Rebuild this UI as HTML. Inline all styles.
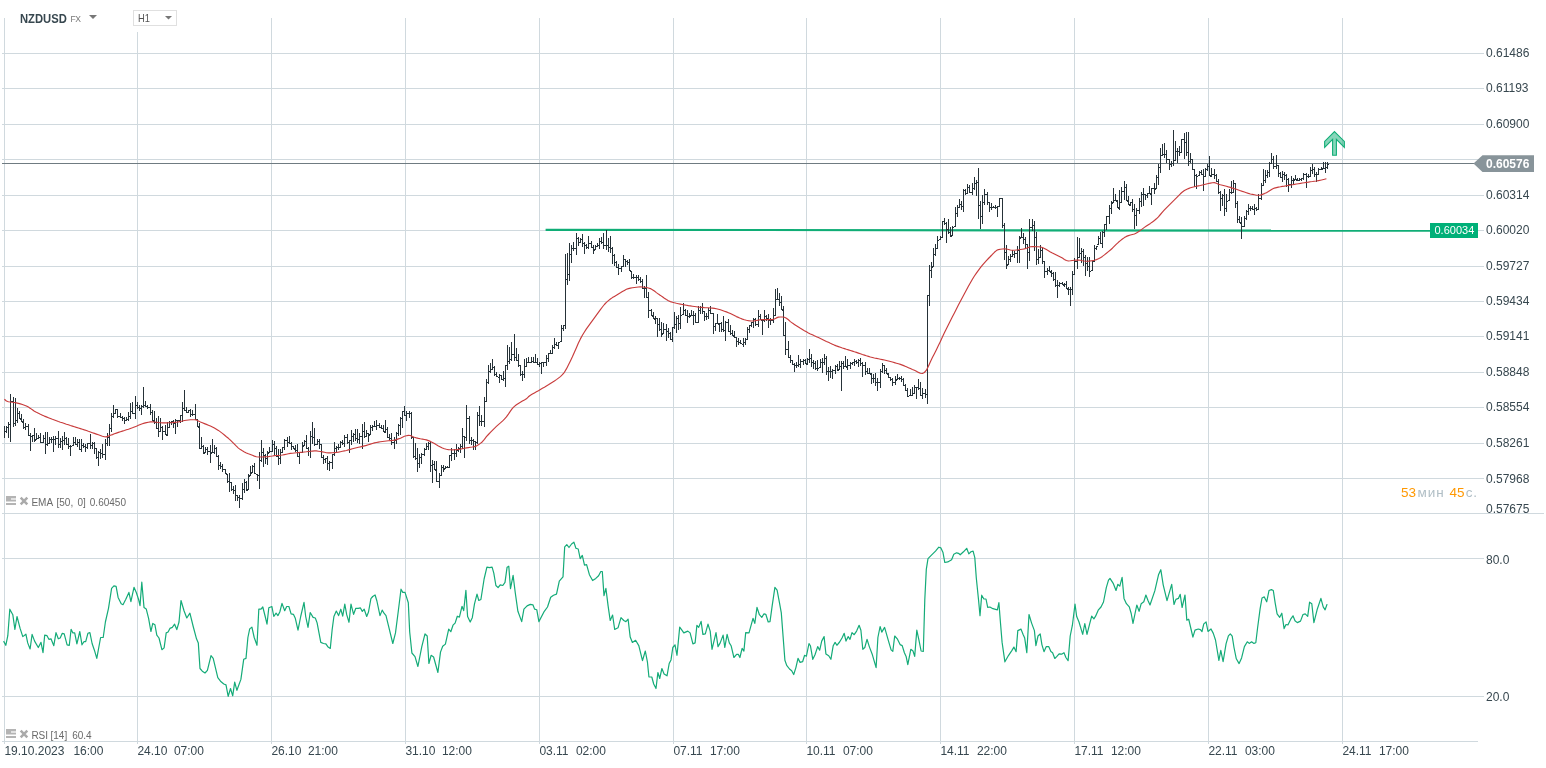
<!DOCTYPE html>
<html><head><meta charset="utf-8"><title>NZDUSD</title>
<style>
html,body{margin:0;padding:0;background:#fff;}
body{width:1546px;height:768px;position:relative;overflow:hidden;font-family:"Liberation Sans",sans-serif;}
.t{position:absolute;white-space:nowrap;line-height:1;}
.ax{font-size:12px;color:#37474f;left:1486px;}
.tm{font-size:12px;color:#37474f;top:745px;}
.ind{font-size:10px;color:#6a6a6a;}
</style></head><body>

<svg width="1546" height="768" viewBox="0 0 1546 768" style="position:absolute;left:0;top:0">
<path d="M4.5 18V744M137.5 18V744M271.5 18V744M405.5 18V744M539.5 18V744M673.5 18V744M806.5 18V744M940.5 18V744M1074.5 18V744M1208.5 18V744M1342.5 18V744M2 53.5H1484M2 88.5H1484M2 124.5H1484M2 159.5H1484M2 195.5H1484M2 230.5H1484M2 266.5H1484M2 301.5H1484M2 336.5H1484M2 372.5H1484M2 407.5H1484M2 443.5H1484M2 478.5H1484M2 558.5H1484M2 696.5H1484" stroke="#d0d9de" stroke-width="1" fill="none" shape-rendering="crispEdges"/>
<path d="M2 513.5H1544M2 741.5H1478" stroke="#d0d9de" stroke-width="1" fill="none" shape-rendering="crispEdges"/>
<path d="M2 163.5H1476" stroke="#6f7b81" stroke-width="1" fill="none" shape-rendering="crispEdges"/>
<path d="M545.6 229.8L1431 230.7" stroke="#10ad76" stroke-width="2.2" fill="none"/>
<path d="M4.5 426V438M5 431.5h1M6.5 426V433M7 427.5h1M5 431.5h1M8.5 422V438M9 424.5h1M7 427.5h1M10.5 394V442M11 401.5h1M9 424.5h1M13.5 397V427M14 423.5h1M12 401.5h1M15.5 398V426M16 420.5h1M14 423.5h1M17.5 408V423M18 413.5h1M16 420.5h1M19.5 411V419M20 418.5h1M18 413.5h1M21.5 414V422M22 421.5h1M20 419.5h1M23.5 419V429M24 427.5h1M22 422.5h1M25.5 423V430M26 426.5h1M24 427.5h1M28.5 424V436M29 435.5h1M27 426.5h1M30.5 433V451M31 436.5h1M29 435.5h1M32.5 435V442M33 435.5h1M31 436.5h1M34.5 428V442M35 440.5h1M33 435.5h1M36.5 433V440M37 438.5h1M35 439.5h1M38.5 435V439M39 437.5h1M37 438.5h1M40.5 433V443M41 442.5h1M39 437.5h1M43.5 435V443M44 438.5h1M42 442.5h1M45.5 432V454M46 444.5h1M44 438.5h1M47.5 432V446M48 443.5h1M46 444.5h1M49.5 437V444M50 439.5h1M48 443.5h1M51.5 437V443M52 439.5h1M50 439.5h1M53.5 436V452M54 439.5h1M52 439.5h1M55.5 436V445M56 438.5h1M54 439.5h1M58.5 431V448M59 444.5h1M57 438.5h1M60.5 438V448M61 441.5h1M59 444.5h1M62.5 436V450M63 440.5h1M61 441.5h1M64.5 432V445M65 438.5h1M63 440.5h1M66.5 437V445M67 444.5h1M65 438.5h1M68.5 438V449M69 446.5h1M67 444.5h1M70.5 445V456M71 446.5h1M69 446.5h1M73.5 437V446M74 442.5h1M72 445.5h1M75.5 437V445M76 444.5h1M74 442.5h1M77.5 439V447M78 442.5h1M76 444.5h1M79.5 439V450M80 449.5h1M78 442.5h1M81.5 439V452M82 445.5h1M80 449.5h1M83.5 443V448M84 446.5h1M82 445.5h1M85.5 444V452M86 447.5h1M84 446.5h1M87.5 443V449M88 443.5h1M86 447.5h1M90.5 434V449M91 445.5h1M89 443.5h1M92.5 442V449M93 443.5h1M91 445.5h1M94.5 442V454M95 448.5h1M93 443.5h1M96.5 448V459M97 457.5h1M95 448.5h1M98.5 451V466M99 452.5h1M97 457.5h1M100.5 449V459M101 453.5h1M99 452.5h1M102.5 444V458M103 454.5h1M101 453.5h1M105.5 439V460M106 443.5h1M104 454.5h1M107.5 433V446M108 437.5h1M106 443.5h1M109.5 424V446M110 428.5h1M108 437.5h1M111.5 413V432M112 416.5h1M110 428.5h1M113.5 405V418M114 413.5h1M112 416.5h1M115.5 409V414M116 409.5h1M114 413.5h1M117.5 409V418M118 416.5h1M116 409.5h1M120.5 413V418M121 417.5h1M119 416.5h1M122.5 416V421M123 418.5h1M121 417.5h1M124.5 417V424M125 420.5h1M123 418.5h1M126.5 417V421M127 419.5h1M125 420.5h1M128.5 412V421M129 416.5h1M127 419.5h1M130.5 403V419M131 411.5h1M129 416.5h1M132.5 402V414M133 413.5h1M131 411.5h1M135.5 396V419M136 405.5h1M134 413.5h1M137.5 402V409M138 407.5h1M136 405.5h1M139.5 405V411M140 408.5h1M138 407.5h1M141.5 405V415M142 406.5h1M140 408.5h1M143.5 387V408M144 405.5h1M142 406.5h1M145.5 401V407M146 406.5h1M144 405.5h1M147.5 405V409M148 407.5h1M146 406.5h1M150.5 404V415M151 412.5h1M149 407.5h1M152.5 410V421M153 420.5h1M151 412.5h1M154.5 411V424M155 422.5h1M153 421.5h1M156.5 418V429M157 428.5h1M155 422.5h1M158.5 416V437M159 431.5h1M157 428.5h1M160.5 418V432M161 427.5h1M159 431.5h1M162.5 426V440M163 431.5h1M161 427.5h1M165.5 425V435M166 434.5h1M164 431.5h1M167.5 422V436M168 427.5h1M166 435.5h1M169.5 421V428M170 422.5h1M168 427.5h1M171.5 421V425M172 421.5h1M170 422.5h1M173.5 420V428M174 423.5h1M172 421.5h1M175.5 419V434M176 420.5h1M174 423.5h1M177.5 420V427M178 420.5h1M176 420.5h1M180.5 415V423M181 415.5h1M179 420.5h1M182.5 402V422M183 408.5h1M181 415.5h1M184.5 390V411M185 410.5h1M183 408.5h1M186.5 407V413M187 412.5h1M185 410.5h1M188.5 410V413M189 410.5h1M187 412.5h1M190.5 409V417M191 414.5h1M189 410.5h1M192.5 410V416M193 414.5h1M191 414.5h1M195.5 404V420M196 419.5h1M194 414.5h1M197.5 419V427M198 426.5h1M196 419.5h1M199.5 423V449M200 448.5h1M198 427.5h1M201.5 437V449M202 446.5h1M200 448.5h1M203.5 445V454M204 453.5h1M202 446.5h1M205.5 447V453M206 449.5h1M204 452.5h1M207.5 447V455M208 451.5h1M206 449.5h1M210.5 445V463M211 453.5h1M209 451.5h1M212.5 439V453M213 452.5h1M211 452.5h1M214.5 445V454M215 448.5h1M213 452.5h1M216.5 447V457M217 456.5h1M215 448.5h1M218.5 455V470M219 465.5h1M217 456.5h1M220.5 462V469M221 466.5h1M219 465.5h1M222.5 464V472M223 469.5h1M221 466.5h1M225.5 469V474M226 473.5h1M224 469.5h1M227.5 474V483M228 481.5h1M226 474.5h1M229.5 473V492M230 482.5h1M228 481.5h1M231.5 482V491M232 489.5h1M230 482.5h1M233.5 486V494M234 490.5h1M232 489.5h1M235.5 485V501M236 495.5h1M234 490.5h1M237.5 495V501M238 497.5h1M236 495.5h1M239.5 495V508M240 498.5h1M238 497.5h1M242.5 483V500M243 489.5h1M241 498.5h1M244.5 479V493M245 482.5h1M243 489.5h1M246.5 481V491M247 490.5h1M245 482.5h1M248.5 474V490M249 476.5h1M247 489.5h1M250.5 466V476M251 473.5h1M249 475.5h1M252.5 465V473M253 466.5h1M251 472.5h1M254.5 463V474M255 473.5h1M253 466.5h1M257.5 474V481M258 475.5h1M256 474.5h1M259.5 452V489M260 460.5h1M258 475.5h1M261.5 440V462M262 452.5h1M260 460.5h1M263.5 448V467M264 455.5h1M262 452.5h1M265.5 454V464M266 458.5h1M264 455.5h1M267.5 451V465M268 453.5h1M266 458.5h1M269.5 447V453M270 451.5h1M268 452.5h1M272.5 440V452M273 444.5h1M271 451.5h1M274.5 441V456M275 448.5h1M273 444.5h1M276.5 446V457M277 456.5h1M275 448.5h1M278.5 449V465M279 458.5h1M277 456.5h1M280.5 449V464M281 452.5h1M279 458.5h1M282.5 447V453M283 447.5h1M281 452.5h1M284.5 439V450M285 440.5h1M283 447.5h1M287.5 437V447M288 442.5h1M286 440.5h1M289.5 436V444M290 443.5h1M288 442.5h1M291.5 442V450M292 446.5h1M290 443.5h1M293.5 446V449M294 448.5h1M292 446.5h1M295.5 445V452M296 450.5h1M294 449.5h1M297.5 444V457M298 456.5h1M296 450.5h1M299.5 452V464M300 452.5h1M298 456.5h1M302.5 442V453M303 446.5h1M301 452.5h1M304.5 440V446M305 441.5h1M303 445.5h1M306.5 435V449M307 448.5h1M305 441.5h1M308.5 447V456M309 451.5h1M307 448.5h1M310.5 431V458M311 436.5h1M309 451.5h1M312.5 422V444M313 437.5h1M311 436.5h1M314.5 428V446M315 444.5h1M313 437.5h1M317.5 439V445M318 441.5h1M316 444.5h1M319.5 439V449M320 444.5h1M318 441.5h1M321.5 444V458M322 457.5h1M320 444.5h1M323.5 455V464M324 459.5h1M322 457.5h1M325.5 458V463M326 458.5h1M324 459.5h1M327.5 456V470M328 463.5h1M326 458.5h1M329.5 461V471M330 462.5h1M328 463.5h1M332.5 454V469M333 454.5h1M331 462.5h1M334.5 442V456M335 448.5h1M333 454.5h1M336.5 446V452M337 447.5h1M335 448.5h1M338.5 444V450M339 447.5h1M337 447.5h1M340.5 441V448M341 442.5h1M339 447.5h1M342.5 440V445M343 443.5h1M341 442.5h1M344.5 435V447M345 437.5h1M343 443.5h1M347.5 434V444M348 442.5h1M346 437.5h1M349.5 440V453M350 440.5h1M348 442.5h1M351.5 430V445M352 436.5h1M350 440.5h1M353.5 433V442M354 434.5h1M352 436.5h1M355.5 429V441M356 438.5h1M354 434.5h1M357.5 429V443M358 439.5h1M356 438.5h1M359.5 433V444M360 436.5h1M358 439.5h1M362.5 424V449M363 431.5h1M361 436.5h1M364.5 422V438M365 436.5h1M363 431.5h1M366.5 430V437M367 433.5h1M365 436.5h1M368.5 433V442M369 435.5h1M367 433.5h1M370.5 425V435M371 427.5h1M369 434.5h1M372.5 425V431M373 426.5h1M371 427.5h1M374.5 421V427M375 426.5h1M373 426.5h1M376.5 420V430M377 425.5h1M375 426.5h1M379.5 423V428M380 427.5h1M378 425.5h1M381.5 425V429M382 428.5h1M380 427.5h1M383.5 425V432M384 431.5h1M382 428.5h1M385.5 420V433M386 429.5h1M384 432.5h1M387.5 427V438M388 437.5h1M386 429.5h1M389.5 434V440M390 438.5h1M388 437.5h1M391.5 433V445M392 442.5h1M390 438.5h1M394.5 437V449M395 440.5h1M393 442.5h1M396.5 432V444M397 433.5h1M395 440.5h1M398.5 424V436M399 425.5h1M397 433.5h1M400.5 417V435M401 418.5h1M399 425.5h1M402.5 411V428M403 411.5h1M401 418.5h1M404.5 406V416M405 415.5h1M403 411.5h1M406.5 411V421M407 413.5h1M405 415.5h1M409.5 411V418M410 413.5h1M408 413.5h1M411.5 412V439M412 437.5h1M410 413.5h1M413.5 437V458M414 456.5h1M412 437.5h1M415.5 443V460M416 458.5h1M414 456.5h1M417.5 448V472M418 463.5h1M416 458.5h1M419.5 454V468M420 457.5h1M418 463.5h1M421.5 453V464M422 454.5h1M420 457.5h1M424.5 448V456M425 449.5h1M423 454.5h1M426.5 443V450M427 446.5h1M425 449.5h1M428.5 442V450M429 443.5h1M427 446.5h1M430.5 442V472M431 465.5h1M429 443.5h1M432.5 460V483M433 464.5h1M431 465.5h1M434.5 461V470M435 469.5h1M433 464.5h1M436.5 461V482M437 481.5h1M435 470.5h1M439.5 473V488M440 475.5h1M438 481.5h1M441.5 465V476M442 467.5h1M440 475.5h1M443.5 465V472M444 469.5h1M442 467.5h1M445.5 466V469M446 467.5h1M444 468.5h1M447.5 466V468M448 467.5h1M446 467.5h1M449.5 455V468M450 455.5h1M448 467.5h1M451.5 448V461M452 453.5h1M450 455.5h1M454.5 449V460M455 453.5h1M453 453.5h1M456.5 444V457M457 450.5h1M455 453.5h1M458.5 447V452M459 448.5h1M457 450.5h1M460.5 444V453M461 446.5h1M459 448.5h1M462.5 428V449M463 436.5h1M461 446.5h1M464.5 436V458M465 437.5h1M463 436.5h1M466.5 405V441M467 418.5h1M465 437.5h1M469.5 416V444M470 440.5h1M468 418.5h1M471.5 437V445M472 440.5h1M470 440.5h1M473.5 439V450M474 441.5h1M472 440.5h1M475.5 441V450M476 442.5h1M474 441.5h1M477.5 412V444M478 415.5h1M476 442.5h1M479.5 406V426M480 421.5h1M478 415.5h1M481.5 415V426M482 421.5h1M480 421.5h1M484.5 397V427M485 401.5h1M483 421.5h1M486.5 379V402M487 382.5h1M485 401.5h1M488.5 365V384M489 371.5h1M487 382.5h1M490.5 363V373M491 369.5h1M489 371.5h1M492.5 359V370M493 367.5h1M491 369.5h1M494.5 366V376M495 374.5h1M493 367.5h1M496.5 372V377M497 376.5h1M495 374.5h1M499.5 374V383M500 375.5h1M498 377.5h1M501.5 375V380M502 379.5h1M500 375.5h1M503.5 371V381M504 378.5h1M502 379.5h1M505.5 365V387M506 365.5h1M504 378.5h1M507.5 345V370M508 361.5h1M506 365.5h1M509.5 347V364M510 359.5h1M508 361.5h1M511.5 342V361M512 354.5h1M510 359.5h1M514.5 334V361M515 357.5h1M513 354.5h1M516.5 348V361M517 360.5h1M515 357.5h1M518.5 354V367M519 365.5h1M517 360.5h1M520.5 365V376M521 374.5h1M519 365.5h1M522.5 371V381M523 374.5h1M521 374.5h1M524.5 359V378M525 366.5h1M523 374.5h1M526.5 358V367M527 362.5h1M525 366.5h1M528.5 357V363M529 362.5h1M527 362.5h1M531.5 357V363M532 361.5h1M530 362.5h1M533.5 357V363M534 362.5h1M532 361.5h1M535.5 354V363M536 362.5h1M534 362.5h1M537.5 358V365M538 364.5h1M536 362.5h1M539.5 362V367M540 363.5h1M538 364.5h1M541.5 362V374M542 362.5h1M540 363.5h1M543.5 362V367M544 362.5h1M542 362.5h1M546.5 355V366M547 358.5h1M545 362.5h1M548.5 353V362M549 353.5h1M547 358.5h1M550.5 350V354M551 353.5h1M549 353.5h1M552.5 345V354M553 347.5h1M551 353.5h1M554.5 338V349M555 344.5h1M553 347.5h1M556.5 342V346M557 345.5h1M555 344.5h1M558.5 342V349M559 342.5h1M557 345.5h1M561.5 325V342M562 328.5h1M560 341.5h1M563.5 325V331M564 325.5h1M562 328.5h1M565.5 254V329M566 279.5h1M564 325.5h1M567.5 253V285M568 274.5h1M566 279.5h1M569.5 243V281M570 254.5h1M568 274.5h1M571.5 245V263M572 248.5h1M570 254.5h1M573.5 242V251M574 248.5h1M572 248.5h1M576.5 233V255M577 238.5h1M575 248.5h1M578.5 237V246M579 242.5h1M577 238.5h1M580.5 238V243M581 239.5h1M579 242.5h1M582.5 234V247M583 243.5h1M581 239.5h1M584.5 242V254M585 245.5h1M583 243.5h1M586.5 244V249M587 247.5h1M585 245.5h1M588.5 236V249M589 243.5h1M587 247.5h1M591.5 241V248M592 247.5h1M590 243.5h1M593.5 245V254M594 250.5h1M592 247.5h1M595.5 245V250M596 246.5h1M594 249.5h1M597.5 243V247M598 245.5h1M596 246.5h1M599.5 238V249M600 241.5h1M598 245.5h1M601.5 237V244M602 242.5h1M600 241.5h1M603.5 233V249M604 245.5h1M602 242.5h1M606.5 230V250M607 245.5h1M605 245.5h1M608.5 238V252M609 247.5h1M607 245.5h1M610.5 236V253M611 248.5h1M609 247.5h1M612.5 247V264M613 255.5h1M611 248.5h1M614.5 254V266M615 262.5h1M613 255.5h1M616.5 261V268M617 267.5h1M615 262.5h1M618.5 264V275M619 268.5h1M617 267.5h1M621.5 266V272M622 266.5h1M620 268.5h1M623.5 255V267M624 259.5h1M622 266.5h1M625.5 259V267M626 261.5h1M624 259.5h1M627.5 260V265M628 262.5h1M626 261.5h1M629.5 259V271M630 270.5h1M628 262.5h1M631.5 271V279M632 277.5h1M630 271.5h1M633.5 274V279M634 277.5h1M632 277.5h1M636.5 275V284M637 277.5h1M635 277.5h1M638.5 275V281M639 279.5h1M637 277.5h1M640.5 277V283M641 281.5h1M639 279.5h1M642.5 279V289M643 288.5h1M641 281.5h1M644.5 286V298M645 288.5h1M643 288.5h1M646.5 275V298M647 297.5h1M645 288.5h1M648.5 292V318M649 310.5h1M647 297.5h1M651.5 309V316M652 315.5h1M650 310.5h1M653.5 312V319M654 318.5h1M652 316.5h1M655.5 316V324M656 318.5h1M654 319.5h1M657.5 318V337M658 324.5h1M656 318.5h1M659.5 318V331M660 329.5h1M658 324.5h1M661.5 322V337M662 334.5h1M660 329.5h1M663.5 323V334M664 329.5h1M662 333.5h1M666.5 324V341M667 331.5h1M665 329.5h1M668.5 328V338M669 333.5h1M667 331.5h1M670.5 332V340M671 339.5h1M669 333.5h1M672.5 327V342M673 327.5h1M671 339.5h1M674.5 312V329M675 324.5h1M673 327.5h1M676.5 316V333M677 318.5h1M675 324.5h1M678.5 315V330M679 323.5h1M677 318.5h1M680.5 307V329M681 315.5h1M679 323.5h1M683.5 303V315M684 310.5h1M682 314.5h1M685.5 309V316M686 315.5h1M684 310.5h1M687.5 310V323M688 316.5h1M686 315.5h1M689.5 313V318M690 316.5h1M688 316.5h1M691.5 310V316M692 315.5h1M690 315.5h1M693.5 311V325M694 315.5h1M692 315.5h1M695.5 313V323M696 322.5h1M694 315.5h1M698.5 306V323M699 310.5h1M697 322.5h1M700.5 306V314M701 307.5h1M699 310.5h1M702.5 303V314M703 311.5h1M701 307.5h1M704.5 311V321M705 316.5h1M703 311.5h1M706.5 313V320M707 316.5h1M705 316.5h1M708.5 308V319M709 310.5h1M707 316.5h1M710.5 306V314M711 313.5h1M709 310.5h1M713.5 313V334M714 326.5h1M712 313.5h1M715.5 323V331M716 323.5h1M714 326.5h1M717.5 314V324M718 323.5h1M716 323.5h1M719.5 323V332M720 323.5h1M718 324.5h1M721.5 322V332M722 329.5h1M720 323.5h1M723.5 316V332M724 330.5h1M722 329.5h1M725.5 321V341M726 322.5h1M724 330.5h1M728.5 319V332M729 331.5h1M727 322.5h1M730.5 325V335M731 333.5h1M729 331.5h1M732.5 330V336M733 335.5h1M731 333.5h1M734.5 331V338M735 337.5h1M733 336.5h1M736.5 337V347M737 341.5h1M735 337.5h1M738.5 338V345M739 342.5h1M737 341.5h1M740.5 340V344M741 343.5h1M739 342.5h1M743.5 338V347M744 342.5h1M742 344.5h1M745.5 338V345M746 339.5h1M744 342.5h1M747.5 327V340M748 329.5h1M746 339.5h1M749.5 325V333M750 325.5h1M748 329.5h1M751.5 322V327M752 322.5h1M750 325.5h1M753.5 318V328M754 319.5h1M752 322.5h1M755.5 318V326M756 324.5h1M754 319.5h1M758.5 310V327M759 316.5h1M757 324.5h1M760.5 314V320M761 319.5h1M759 316.5h1M762.5 319V335M763 320.5h1M761 320.5h1M764.5 310V322M765 316.5h1M763 320.5h1M766.5 315V321M767 318.5h1M765 316.5h1M768.5 314V328M769 320.5h1M767 318.5h1M770.5 318V325M771 320.5h1M769 320.5h1M773.5 308V323M774 315.5h1M772 320.5h1M775.5 289V316M776 299.5h1M774 315.5h1M777.5 288V300M778 299.5h1M776 299.5h1M779.5 293V306M780 302.5h1M778 299.5h1M781.5 296V310M782 309.5h1M780 302.5h1M783.5 306V336M784 335.5h1M782 310.5h1M785.5 322V355M786 349.5h1M784 335.5h1M788.5 341V358M789 357.5h1M787 349.5h1M790.5 355V363M791 360.5h1M789 357.5h1M792.5 360V365M793 364.5h1M791 360.5h1M794.5 363V372M795 365.5h1M793 364.5h1M796.5 362V368M797 365.5h1M795 365.5h1M798.5 355V367M799 364.5h1M797 365.5h1M800.5 359V368M801 361.5h1M799 364.5h1M803.5 359V365M804 360.5h1M802 361.5h1M805.5 359V364M806 363.5h1M804 360.5h1M807.5 358V365M808 359.5h1M806 364.5h1M809.5 349V363M810 358.5h1M808 359.5h1M811.5 354V367M812 362.5h1M810 358.5h1M813.5 360V369M814 363.5h1M812 362.5h1M815.5 361V370M816 368.5h1M814 363.5h1M817.5 360V371M818 368.5h1M816 368.5h1M820.5 359V368M821 362.5h1M819 367.5h1M822.5 358V373M823 362.5h1M821 362.5h1M824.5 354V365M825 358.5h1M823 362.5h1M826.5 356V375M827 371.5h1M825 358.5h1M828.5 367V381M829 371.5h1M827 371.5h1M830.5 366V378M831 371.5h1M829 371.5h1M832.5 369V379M833 370.5h1M831 371.5h1M835.5 365V374M836 366.5h1M834 370.5h1M837.5 364V371M838 370.5h1M836 366.5h1M839.5 361V370M840 366.5h1M838 369.5h1M841.5 361V391M842 363.5h1M840 366.5h1M843.5 361V369M844 366.5h1M842 363.5h1M845.5 356V367M846 366.5h1M844 366.5h1M847.5 359V370M848 365.5h1M846 367.5h1M850.5 362V369M851 363.5h1M849 365.5h1M852.5 362V365M853 362.5h1M851 363.5h1M854.5 359V366M855 361.5h1M853 362.5h1M856.5 360V364M857 362.5h1M855 361.5h1M858.5 359V367M859 360.5h1M857 362.5h1M860.5 358V366M861 363.5h1M859 360.5h1M862.5 362V377M863 365.5h1M861 363.5h1M865.5 362V375M866 371.5h1M864 365.5h1M867.5 368V374M868 373.5h1M866 371.5h1M869.5 368V374M870 373.5h1M868 373.5h1M871.5 373V384M872 378.5h1M870 374.5h1M873.5 374V383M874 378.5h1M872 378.5h1M875.5 373V386M876 382.5h1M874 378.5h1M877.5 378V391M878 382.5h1M876 382.5h1M880.5 369V388M881 371.5h1M879 382.5h1M882.5 363V373M883 365.5h1M881 371.5h1M884.5 365V374M885 370.5h1M883 365.5h1M886.5 368V374M887 373.5h1M885 370.5h1M888.5 373V378M889 377.5h1M887 374.5h1M890.5 377V381M891 379.5h1M889 377.5h1M892.5 378V386M893 382.5h1M891 379.5h1M895.5 376V385M896 380.5h1M894 382.5h1M897.5 374V380M898 378.5h1M896 379.5h1M899.5 377V380M900 378.5h1M898 378.5h1M901.5 376V382M902 379.5h1M900 378.5h1M903.5 378V386M904 385.5h1M902 379.5h1M905.5 384V391M906 390.5h1M904 385.5h1M907.5 388V397M908 396.5h1M906 390.5h1M910.5 389V396M911 395.5h1M909 395.5h1M912.5 387V396M913 393.5h1M911 395.5h1M914.5 385V394M915 387.5h1M913 393.5h1M916.5 387V399M917 387.5h1M915 387.5h1M918.5 379V390M919 388.5h1M917 387.5h1M920.5 382V396M921 395.5h1M919 388.5h1M922.5 388V399M923 393.5h1M921 395.5h1M925.5 389V398M926 394.5h1M924 393.5h1M927.5 295V404M928 295.5h1M926 394.5h1M929.5 265V306M930 270.5h1M928 295.5h1M931.5 262V278M932 267.5h1M930 270.5h1M933.5 248V267M934 254.5h1M932 266.5h1M935.5 244V256M936 248.5h1M934 254.5h1M937.5 236V249M938 240.5h1M936 248.5h1M940.5 236V240M941 237.5h1M939 239.5h1M942.5 221V238M943 221.5h1M941 237.5h1M944.5 218V225M945 223.5h1M943 221.5h1M946.5 222V243M947 229.5h1M945 223.5h1M948.5 219V234M949 232.5h1M947 229.5h1M950.5 227V237M951 236.5h1M949 232.5h1M952.5 226V236M953 227.5h1M951 235.5h1M955.5 207V227M956 213.5h1M954 226.5h1M957.5 205V217M958 207.5h1M956 213.5h1M959.5 199V208M960 204.5h1M958 207.5h1M961.5 201V210M962 206.5h1M960 204.5h1M963.5 189V212M964 190.5h1M962 206.5h1M965.5 189V195M966 193.5h1M964 190.5h1M967.5 184V194M968 187.5h1M966 193.5h1M969.5 185V193M970 192.5h1M968 187.5h1M972.5 183V195M973 188.5h1M971 192.5h1M974.5 177V190M975 183.5h1M973 188.5h1M976.5 180V196M977 182.5h1M975 183.5h1M978.5 168V219M979 205.5h1M977 182.5h1M980.5 201V229M981 216.5h1M979 205.5h1M982.5 195V224M983 202.5h1M981 216.5h1M984.5 189V205M985 194.5h1M983 202.5h1M987.5 192V205M988 202.5h1M986 194.5h1M989.5 202V212M990 207.5h1M988 202.5h1M991.5 203V210M992 207.5h1M990 207.5h1M993.5 206V208M994 207.5h1M992 207.5h1M995.5 205V209M996 207.5h1M994 207.5h1M997.5 206V217M998 206.5h1M996 207.5h1M999.5 198V207M1000 198.5h1M998 206.5h1M1002.5 198V228M1003 225.5h1M1001 198.5h1M1004.5 223V260M1005 252.5h1M1003 225.5h1M1006.5 245V269M1007 265.5h1M1005 252.5h1M1008.5 256V265M1009 259.5h1M1007 264.5h1M1010.5 254V262M1011 256.5h1M1009 259.5h1M1012.5 250V257M1013 254.5h1M1011 256.5h1M1014.5 251V258M1015 253.5h1M1013 254.5h1M1017.5 246V263M1018 250.5h1M1016 253.5h1M1019.5 236V263M1020 238.5h1M1018 250.5h1M1021.5 228V238M1022 237.5h1M1020 237.5h1M1023.5 233V244M1024 239.5h1M1022 237.5h1M1025.5 237V248M1026 244.5h1M1024 239.5h1M1027.5 244V269M1028 252.5h1M1026 244.5h1M1029.5 219V261M1030 227.5h1M1028 252.5h1M1032.5 219V231M1033 225.5h1M1031 227.5h1M1034.5 221V251M1035 237.5h1M1033 225.5h1M1036.5 232V265M1037 259.5h1M1035 237.5h1M1038.5 249V264M1039 257.5h1M1037 259.5h1M1040.5 245V258M1041 250.5h1M1039 257.5h1M1042.5 248V264M1043 261.5h1M1041 250.5h1M1044.5 261V278M1045 271.5h1M1043 261.5h1M1047.5 268V275M1048 270.5h1M1046 271.5h1M1049.5 266V272M1050 271.5h1M1048 270.5h1M1051.5 270V277M1052 273.5h1M1050 272.5h1M1053.5 272V281M1054 279.5h1M1052 273.5h1M1055.5 272V287M1056 285.5h1M1054 279.5h1M1057.5 280V298M1058 285.5h1M1056 285.5h1M1059.5 282V287M1060 283.5h1M1058 285.5h1M1062.5 282V285M1063 284.5h1M1061 283.5h1M1064.5 283V287M1065 284.5h1M1063 285.5h1M1066.5 281V289M1067 288.5h1M1065 284.5h1M1068.5 287V295M1069 289.5h1M1067 289.5h1M1070.5 287V306M1071 289.5h1M1069 289.5h1M1072.5 271V295M1073 274.5h1M1071 289.5h1M1074.5 258V275M1075 261.5h1M1073 274.5h1M1077.5 237V269M1078 257.5h1M1076 261.5h1M1079.5 238V258M1080 253.5h1M1078 257.5h1M1081.5 248V263M1082 251.5h1M1080 253.5h1M1083.5 249V266M1084 257.5h1M1082 251.5h1M1085.5 255V276M1086 263.5h1M1084 257.5h1M1087.5 257V271M1088 266.5h1M1086 263.5h1M1089.5 257V277M1090 271.5h1M1088 266.5h1M1092.5 261V271M1093 261.5h1M1091 270.5h1M1094.5 245V262M1095 248.5h1M1093 261.5h1M1096.5 246V250M1097 246.5h1M1095 248.5h1M1098.5 236V245M1099 238.5h1M1097 244.5h1M1100.5 232V244M1101 243.5h1M1099 238.5h1M1102.5 231V248M1103 232.5h1M1101 243.5h1M1104.5 224V237M1105 224.5h1M1103 232.5h1M1106.5 216V230M1107 216.5h1M1105 224.5h1M1109.5 205V224M1110 208.5h1M1108 216.5h1M1111.5 201V214M1112 203.5h1M1110 208.5h1M1113.5 188V203M1114 200.5h1M1112 202.5h1M1115.5 194V201M1116 200.5h1M1114 200.5h1M1117.5 200V208M1118 207.5h1M1116 201.5h1M1119.5 190V210M1120 202.5h1M1118 208.5h1M1121.5 187V203M1122 191.5h1M1120 202.5h1M1124.5 181V200M1125 187.5h1M1123 191.5h1M1126.5 184V201M1127 200.5h1M1125 187.5h1M1128.5 196V205M1129 204.5h1M1127 201.5h1M1130.5 202V206M1131 202.5h1M1129 205.5h1M1132.5 199V212M1133 209.5h1M1131 202.5h1M1134.5 204V229M1135 215.5h1M1133 209.5h1M1136.5 208V226M1137 210.5h1M1135 215.5h1M1139.5 198V214M1140 201.5h1M1138 210.5h1M1141.5 192V207M1142 194.5h1M1140 201.5h1M1143.5 188V206M1144 194.5h1M1142 194.5h1M1145.5 194V200M1146 195.5h1M1144 194.5h1M1147.5 193V198M1148 193.5h1M1146 195.5h1M1149.5 186V194M1150 193.5h1M1148 193.5h1M1151.5 188V205M1152 188.5h1M1150 194.5h1M1154.5 183V194M1155 189.5h1M1153 188.5h1M1156.5 175V189M1157 177.5h1M1155 188.5h1M1158.5 164V185M1159 167.5h1M1157 177.5h1M1160.5 148V173M1161 155.5h1M1159 167.5h1M1162.5 144V156M1163 154.5h1M1161 155.5h1M1164.5 143V158M1165 154.5h1M1163 154.5h1M1166.5 150V163M1167 159.5h1M1165 154.5h1M1169.5 159V170M1170 164.5h1M1168 159.5h1M1171.5 161V167M1172 163.5h1M1170 164.5h1M1173.5 130V166M1174 160.5h1M1172 163.5h1M1175.5 141V161M1176 151.5h1M1174 160.5h1M1177.5 148V163M1178 151.5h1M1176 151.5h1M1179.5 146V156M1180 152.5h1M1178 151.5h1M1181.5 139V153M1182 139.5h1M1180 152.5h1M1184.5 133V159M1185 142.5h1M1183 139.5h1M1186.5 132V156M1187 152.5h1M1185 142.5h1M1188.5 132V166M1189 161.5h1M1187 152.5h1M1190.5 153V163M1191 159.5h1M1189 161.5h1M1192.5 159V170M1193 169.5h1M1191 159.5h1M1194.5 169V187M1195 175.5h1M1193 169.5h1M1196.5 174V189M1197 176.5h1M1195 175.5h1M1199.5 171V176M1200 172.5h1M1198 175.5h1M1201.5 170V175M1202 174.5h1M1200 172.5h1M1203.5 169V191M1204 176.5h1M1202 174.5h1M1205.5 168V177M1206 169.5h1M1204 176.5h1M1207.5 164V171M1208 166.5h1M1206 169.5h1M1209.5 156V176M1210 175.5h1M1208 166.5h1M1211.5 168V177M1212 174.5h1M1210 176.5h1M1214.5 169V179M1215 175.5h1M1213 174.5h1M1216.5 174V182M1217 181.5h1M1215 175.5h1M1218.5 179V194M1219 192.5h1M1217 181.5h1M1220.5 191V211M1221 198.5h1M1219 192.5h1M1222.5 194V206M1223 195.5h1M1221 198.5h1M1224.5 189V216M1225 208.5h1M1223 195.5h1M1226.5 194V212M1227 201.5h1M1225 208.5h1M1229.5 189V201M1230 192.5h1M1228 200.5h1M1231.5 181V194M1232 192.5h1M1230 192.5h1M1233.5 180V193M1234 183.5h1M1232 192.5h1M1235.5 183V208M1236 203.5h1M1234 183.5h1M1237.5 201V223M1238 219.5h1M1236 203.5h1M1239.5 216V223M1240 222.5h1M1238 219.5h1M1241.5 217V239M1242 226.5h1M1240 223.5h1M1244.5 216V227M1245 218.5h1M1243 226.5h1M1246.5 210V220M1247 211.5h1M1245 218.5h1M1248.5 204V215M1249 208.5h1M1247 211.5h1M1250.5 206V211M1251 208.5h1M1249 208.5h1M1252.5 206V210M1253 209.5h1M1251 208.5h1M1254.5 204V215M1255 208.5h1M1253 209.5h1M1256.5 207V211M1257 209.5h1M1255 208.5h1M1258.5 194V210M1259 198.5h1M1257 209.5h1M1261.5 183V200M1262 185.5h1M1260 198.5h1M1263.5 169V186M1264 180.5h1M1262 185.5h1M1265.5 170V183M1266 175.5h1M1264 180.5h1M1267.5 170V178M1268 172.5h1M1266 175.5h1M1269.5 162V177M1270 163.5h1M1268 172.5h1M1271.5 153V164M1272 159.5h1M1270 163.5h1M1273.5 156V169M1274 166.5h1M1272 159.5h1M1276.5 155V169M1277 165.5h1M1275 166.5h1M1278.5 165V177M1279 173.5h1M1277 165.5h1M1280.5 172V178M1281 177.5h1M1279 173.5h1M1282.5 171V182M1283 174.5h1M1281 177.5h1M1284.5 172V180M1285 175.5h1M1283 174.5h1M1286.5 174V187M1287 179.5h1M1285 175.5h1M1288.5 178V192M1289 184.5h1M1287 179.5h1M1291.5 176V188M1292 180.5h1M1290 184.5h1M1293.5 178V184M1294 180.5h1M1292 180.5h1M1295.5 175V180M1296 179.5h1M1294 179.5h1M1297.5 178V181M1298 180.5h1M1296 180.5h1M1299.5 178V181M1300 179.5h1M1298 180.5h1M1301.5 178V181M1302 178.5h1M1300 179.5h1M1303.5 173V180M1304 174.5h1M1302 178.5h1M1306.5 173V188M1307 176.5h1M1305 174.5h1M1308.5 174V178M1309 176.5h1M1307 176.5h1M1310.5 167V177M1311 170.5h1M1309 176.5h1M1312.5 164V174M1313 169.5h1M1311 170.5h1M1314.5 167V177M1315 174.5h1M1313 169.5h1M1316.5 172V182M1317 174.5h1M1315 174.5h1M1318.5 168V175M1319 169.5h1M1317 174.5h1M1321.5 167V170M1322 169.5h1M1320 169.5h1M1323.5 162V169M1324 168.5h1M1322 168.5h1M1325.5 162V173M1326 167.5h1M1324 168.5h1M1327.5 162V169M1328 164.5h1M1326 167.5h1" stroke="#263238" stroke-width="1" fill="none" shape-rendering="crispEdges"/>
<polyline points="4.4,399.2 6.4,401.0 8.4,401.7 10.4,402.0 12.4,402.3 14.4,402.5 16.4,402.9 18.4,403.4 20.4,403.9 22.4,404.5 24.4,405.2 26.4,406.0 28.4,407.1 30.4,408.4 32.4,409.8 34.4,411.2 36.4,412.3 38.4,413.3 40.4,414.3 42.4,415.2 44.4,416.1 46.4,416.9 48.4,417.7 50.4,418.5 52.4,419.3 54.4,420.0 56.4,420.7 58.4,421.5 60.4,422.2 62.4,422.8 64.4,423.5 66.4,424.2 68.4,424.8 70.4,425.5 72.4,426.1 74.4,426.7 76.4,427.4 78.4,428.0 80.4,428.6 82.4,429.2 84.4,429.9 86.4,430.5 88.4,431.3 90.4,432.0 92.4,432.7 94.4,433.4 96.4,434.1 98.4,434.8 100.4,435.5 102.4,436.3 104.4,436.8 106.4,436.9 108.4,436.1 110.4,435.3 112.4,434.6 114.4,433.8 116.4,433.1 118.4,432.4 120.4,431.7 122.4,431.1 124.4,430.5 126.4,429.8 128.4,429.2 130.4,428.5 132.4,427.8 134.4,427.0 136.4,426.2 138.4,425.3 140.4,424.5 142.4,423.8 144.4,423.1 146.4,422.6 148.4,422.2 150.4,421.9 152.4,421.9 154.4,422.0 156.4,422.2 158.4,422.5 160.4,422.7 162.4,422.9 164.4,422.9 166.4,422.9 168.4,422.8 170.4,422.7 172.4,422.6 174.4,422.4 176.4,422.2 178.4,421.9 180.4,421.4 182.4,421.0 184.4,420.5 186.4,420.2 188.4,420.0 190.4,419.8 192.4,419.7 194.4,419.7 196.4,419.9 198.4,420.9 200.4,422.0 202.4,422.8 204.4,423.6 206.4,424.4 208.4,425.2 210.4,426.1 212.4,427.0 214.4,428.0 216.4,429.2 218.4,430.4 220.4,431.9 222.4,433.4 224.4,435.0 226.4,436.7 228.4,438.3 230.4,440.2 232.4,442.2 234.4,444.2 236.4,446.2 238.4,448.1 240.4,449.6 242.4,450.8 244.4,451.9 246.4,452.9 248.4,453.8 250.4,454.5 252.4,455.3 254.4,456.1 256.4,456.7 258.4,457.0 260.4,457.0 262.4,457.0 264.4,456.9 266.4,456.8 268.4,456.6 270.4,456.3 272.4,456.0 274.4,455.6 276.4,455.5 278.4,455.5 280.4,455.3 282.4,455.0 284.4,454.6 286.4,454.2 288.4,453.8 290.4,453.4 292.4,453.2 294.4,453.0 296.4,452.8 298.4,452.6 300.4,452.4 302.4,452.2 304.4,452.0 306.4,451.8 308.4,451.5 310.4,451.3 312.4,451.1 314.4,450.9 316.4,450.9 318.4,451.2 320.4,451.5 322.4,451.9 324.4,452.3 326.4,452.7 328.4,452.9 330.4,452.9 332.4,452.8 334.4,452.6 336.4,452.4 338.4,452.1 340.4,451.7 342.4,451.3 344.4,450.9 346.4,450.5 348.4,449.9 350.4,449.4 352.4,448.8 354.4,448.3 356.4,447.8 358.4,447.3 360.4,446.9 362.4,446.4 364.4,445.9 366.4,445.4 368.4,444.7 370.4,444.1 372.4,443.5 374.4,442.9 376.4,442.5 378.4,442.1 380.4,441.8 382.4,441.5 384.4,441.2 386.4,441.0 388.4,440.8 390.4,440.6 392.4,440.4 394.4,440.1 396.4,439.6 398.4,438.9 400.4,438.2 402.4,437.3 404.4,436.3 406.4,435.8 408.4,435.4 410.4,435.5 412.4,436.6 414.4,437.3 416.4,437.9 418.4,438.4 420.4,438.8 422.4,439.1 424.4,439.5 426.4,439.9 428.4,440.6 430.4,441.4 432.4,442.4 434.4,443.5 436.4,444.8 438.4,446.0 440.4,447.0 442.4,448.0 444.4,448.8 446.4,449.3 448.4,449.6 450.4,449.8 452.4,449.9 454.4,449.8 456.4,449.6 458.4,449.4 460.4,449.1 462.4,448.7 464.4,448.3 466.4,447.9 468.4,447.6 470.4,447.3 472.4,447.0 474.4,446.6 476.4,446.0 478.4,444.8 480.4,443.4 482.4,441.7 484.4,439.3 486.4,436.7 488.4,434.5 490.4,432.3 492.4,430.3 494.4,428.3 496.4,426.4 498.4,424.6 500.4,422.9 502.4,421.1 504.4,419.2 506.4,416.9 508.4,414.1 510.4,411.1 512.4,408.4 514.4,406.4 516.4,404.8 518.4,403.5 520.4,402.3 522.4,401.1 524.4,400.0 526.4,398.8 528.4,396.8 530.4,395.2 532.4,394.0 534.4,392.9 536.4,391.8 538.4,390.7 540.4,389.5 542.4,388.3 544.4,387.2 546.4,386.0 548.4,384.8 550.4,383.5 552.4,382.2 554.4,381.0 556.4,379.6 558.4,378.1 560.4,376.6 562.4,374.7 564.4,372.3 566.4,368.9 568.4,365.0 570.4,360.9 572.4,356.8 574.4,352.3 576.4,347.7 578.4,343.1 580.4,338.9 582.4,335.3 584.4,332.0 586.4,328.9 588.4,326.1 590.4,323.3 592.4,320.6 594.4,317.9 596.4,315.2 598.4,312.4 600.4,309.6 602.4,307.0 604.4,304.5 606.4,302.4 608.4,300.6 610.4,299.0 612.4,297.6 614.4,296.4 616.4,295.2 618.4,294.0 620.4,292.8 622.4,291.5 624.4,290.4 626.4,289.3 628.4,288.6 630.4,288.1 632.4,287.8 634.4,287.5 636.4,287.2 638.4,287.0 640.4,286.9 642.4,287.0 644.4,287.2 646.4,287.5 648.4,288.0 650.4,288.6 652.4,289.7 654.4,291.0 656.4,292.6 658.4,294.1 660.4,295.4 662.4,296.8 664.4,298.3 666.4,299.6 668.4,300.8 670.4,301.6 672.4,302.2 674.4,302.8 676.4,303.3 678.4,303.7 680.4,304.1 682.4,304.5 684.4,304.9 686.4,305.2 688.4,305.6 690.4,305.9 692.4,306.2 694.4,306.5 696.4,306.8 698.4,307.1 700.4,307.3 702.4,307.4 704.4,307.6 706.4,307.7 708.4,307.8 710.4,308.0 712.4,308.1 714.4,308.4 716.4,308.7 718.4,309.2 720.4,309.8 722.4,310.5 724.4,311.2 726.4,311.9 728.4,312.7 730.4,313.6 732.4,314.6 734.4,315.6 736.4,316.6 738.4,317.4 740.4,318.3 742.4,319.1 744.4,319.7 746.4,320.2 748.4,320.6 750.4,320.9 752.4,321.0 754.4,320.9 756.4,320.5 758.4,320.1 760.4,319.8 762.4,319.6 764.4,319.6 766.4,319.6 768.4,319.6 770.4,319.6 772.4,319.6 774.4,319.0 776.4,317.9 778.4,317.1 780.4,317.0 782.4,317.0 784.4,317.2 786.4,318.2 788.4,319.8 790.4,321.6 792.4,323.1 794.4,324.4 796.4,325.7 798.4,327.0 800.4,328.3 802.4,329.5 804.4,330.7 806.4,331.8 808.4,332.9 810.4,333.9 812.4,334.8 814.4,335.8 816.4,336.7 818.4,337.6 820.4,338.5 822.4,339.4 824.4,340.4 826.4,341.4 828.4,342.3 830.4,343.3 832.4,344.2 834.4,345.1 836.4,345.9 838.4,346.6 840.4,347.3 842.4,348.0 844.4,348.6 846.4,349.3 848.4,349.9 850.4,350.5 852.4,351.1 854.4,351.8 856.4,352.4 858.4,353.1 860.4,353.8 862.4,354.5 864.4,355.1 866.4,355.8 868.4,356.4 870.4,357.0 872.4,357.5 874.4,358.0 876.4,358.4 878.4,358.8 880.4,359.2 882.4,359.6 884.4,360.0 886.4,360.5 888.4,361.0 890.4,361.5 892.4,362.0 894.4,362.6 896.4,363.2 898.4,363.8 900.4,364.4 902.4,365.1 904.4,365.9 906.4,366.8 908.4,367.7 910.4,368.6 912.4,369.5 914.4,370.3 916.4,371.3 918.4,372.4 920.4,373.2 922.4,373.5 924.4,372.5 926.4,370.2 928.4,366.3 930.4,361.7 932.4,357.6 934.4,353.7 936.4,349.7 938.4,345.6 940.4,341.4 942.4,337.1 944.4,332.8 946.4,328.7 948.4,324.7 950.4,320.7 952.4,316.8 954.4,312.9 956.4,308.9 958.4,305.1 960.4,301.2 962.4,297.5 964.4,293.8 966.4,290.0 968.4,286.3 970.4,282.7 972.4,279.2 974.4,276.0 976.4,273.1 978.4,270.3 980.4,267.7 982.4,265.2 984.4,262.8 986.4,260.6 988.4,258.5 990.4,256.5 992.4,254.3 994.4,252.3 996.4,250.6 998.4,249.6 1000.4,249.2 1002.4,249.0 1004.4,248.9 1006.4,249.0 1008.4,249.5 1010.4,250.0 1012.4,250.2 1014.4,250.2 1016.4,250.0 1018.4,249.8 1020.4,249.5 1022.4,249.2 1024.4,248.9 1026.4,248.3 1028.4,247.5 1030.4,246.8 1032.4,246.5 1034.4,246.6 1036.4,246.7 1038.4,246.8 1040.4,247.0 1042.4,247.5 1044.4,248.4 1046.4,249.6 1048.4,250.8 1050.4,252.0 1052.4,253.1 1054.4,254.1 1056.4,255.1 1058.4,256.1 1060.4,257.1 1062.4,258.1 1064.4,259.4 1066.4,260.5 1068.4,261.0 1070.4,260.8 1072.4,260.5 1074.4,260.2 1076.4,260.0 1078.4,260.1 1080.4,260.3 1082.4,260.7 1084.4,261.0 1086.4,261.2 1088.4,261.1 1090.4,260.9 1092.4,260.6 1094.4,260.2 1096.4,259.6 1098.4,258.8 1100.4,257.7 1102.4,256.4 1104.4,254.9 1106.4,253.3 1108.4,251.6 1110.4,250.0 1112.4,248.2 1114.4,246.2 1116.4,244.2 1118.4,242.3 1120.4,240.6 1122.4,239.0 1124.4,237.6 1126.4,236.4 1128.4,235.6 1130.4,235.0 1132.4,234.5 1134.4,234.0 1136.4,233.1 1138.4,231.8 1140.4,230.4 1142.4,228.9 1144.4,227.4 1146.4,226.0 1148.4,224.7 1150.4,223.4 1152.4,222.0 1154.4,220.5 1156.4,218.8 1158.4,216.8 1160.4,214.5 1162.4,212.1 1164.4,209.9 1166.4,207.8 1168.4,205.8 1170.4,203.8 1172.4,201.8 1174.4,199.9 1176.4,197.9 1178.4,195.8 1180.4,193.8 1182.4,192.0 1184.4,190.5 1186.4,189.5 1188.4,188.6 1190.4,187.8 1192.4,187.2 1194.4,186.7 1196.4,186.3 1198.4,185.9 1200.4,185.5 1202.4,185.0 1204.4,184.5 1206.4,184.0 1208.4,183.5 1210.4,183.1 1212.4,182.8 1214.4,182.6 1216.4,183.2 1218.4,184.2 1220.4,184.8 1222.4,185.3 1224.4,185.8 1226.4,186.3 1228.4,186.9 1230.4,187.4 1232.4,188.1 1234.4,188.7 1236.4,189.3 1238.4,190.0 1240.4,190.7 1242.4,191.4 1244.4,192.0 1246.4,192.7 1248.4,193.4 1250.4,194.0 1252.4,194.4 1254.4,194.8 1256.4,195.2 1258.4,195.3 1260.4,195.1 1262.4,194.4 1264.4,193.6 1266.4,192.7 1268.4,191.6 1270.4,190.3 1272.4,189.0 1274.4,188.1 1276.4,187.6 1278.4,187.1 1280.4,186.8 1282.4,186.4 1284.4,186.1 1286.4,185.7 1288.4,185.4 1290.4,185.0 1292.4,184.7 1294.4,184.4 1296.4,184.0 1298.4,183.7 1300.4,183.4 1302.4,183.0 1304.4,182.7 1306.4,182.4 1308.4,182.1 1310.4,181.7 1312.4,181.5 1314.4,181.2 1316.4,181.0 1318.4,180.6 1320.4,180.2 1322.4,179.8 1324.4,179.3 1326.4,178.7" stroke="#c83c3c" stroke-width="1.15" fill="none" stroke-linejoin="round"/>
<polyline points="3.6,641.1 5.8,645.3 7.8,635.7 9.8,609.2 12.8,614.7 14.9,629.3 17.0,616.5 20.1,628.4 22.8,636.6 25.9,634.2 27.7,642.9 30.1,649.0 32.1,634.4 34.6,641.1 38.3,647.5 41.0,642.4 43.0,652.6 44.7,635.1 47.0,635.7 48.9,639.3 51.0,638.8 53.8,645.7 56.0,632.6 58.3,638.8 60.2,638.0 62.3,633.3 64.2,633.8 67.1,644.8 69.3,645.3 71.1,629.3 72.9,632.9 74.7,632.9 76.9,643.9 79.8,631.5 82.0,644.8 83.9,641.7 85.7,641.7 87.9,633.3 89.9,632.6 92.1,643.5 94.4,650.2 96.8,658.4 100.6,637.5 103.2,637.5 105.4,622.0 108.5,608.3 111.6,588.3 113.9,585.9 116.1,586.4 118.1,597.4 121.2,603.8 123.0,604.7 125.8,599.2 128.9,592.4 130.9,601.6 134.0,587.3 136.4,592.8 138.5,599.2 140.0,605.6 141.8,582.2 144.0,607.4 146.2,608.9 148.6,618.3 150.9,631.5 152.8,623.4 154.9,624.7 156.8,635.1 159.0,638.0 161.9,649.7 164.1,647.9 166.2,632.9 168.1,632.0 169.9,628.4 172.3,627.4 174.6,624.2 176.8,629.6 179.0,622.0 181.0,600.5 184.1,611.0 186.8,618.0 189.9,613.2 193.2,626.5 196.5,638.8 198.3,642.9 200.0,668.5 202.3,671.2 205.0,673.0 207.4,670.3 211.0,655.7 213.2,658.4 217.8,677.6 220.5,681.2 223.8,684.0 226.0,684.9 228.2,696.4 230.5,688.5 232.7,695.8 234.7,682.1 236.9,690.3 240.9,679.4 243.7,659.3 246.0,658.4 247.9,637.5 249.7,628.9 251.9,627.1 254.2,637.5 257.0,645.3 258.8,609.2 261.0,609.2 262.8,607.0 265.2,616.5 267.0,624.2 268.8,607.8 271.9,606.5 273.8,616.5 276.1,613.2 277.9,615.6 279.8,612.0 282.0,603.4 284.7,610.7 286.7,606.5 288.9,606.5 291.1,613.8 293.4,614.3 295.3,618.3 298.0,630.2 300.7,616.5 304.0,602.3 305.7,616.5 308.0,627.4 310.2,612.5 313.1,617.4 315.3,618.0 317.1,622.9 320.8,642.4 323.5,643.5 325.9,643.9 328.1,647.1 330.3,648.4 332.1,630.2 333.9,616.5 336.3,611.0 338.6,615.6 340.8,609.2 342.7,616.1 344.8,604.1 346.7,614.7 349.0,622.3 351.0,604.1 353.6,614.3 355.8,608.3 358.2,608.3 360.3,607.8 362.3,611.4 364.2,609.2 366.7,616.5 368.5,612.0 370.9,598.6 372.7,596.5 375.1,595.0 376.9,601.0 380.0,615.6 382.2,610.1 384.0,613.2 386.0,615.6 388.2,624.7 392.8,643.5 395.5,632.9 398.3,611.0 401.0,589.2 402.8,592.4 405.0,592.4 408.3,602.8 409.7,632.0 411.9,653.0 415.0,656.6 417.9,666.5 421.8,646.7 425.0,633.8 427.2,636.0 428.9,663.5 431.1,655.3 433.6,657.0 437.9,672.5 440.5,652.1 442.7,646.3 445.4,644.1 448.7,629.1 450.8,631.7 453.0,625.2 455.1,623.1 457.3,616.2 459.4,617.1 462.0,606.3 463.7,610.6 465.9,590.4 467.6,616.6 470.2,622.0 472.3,617.7 474.5,603.8 477.0,594.1 478.8,600.5 480.9,599.5 484.1,579.0 486.9,567.2 489.5,567.7 492.1,567.2 493.8,573.2 495.9,585.5 498.1,587.6 500.2,584.8 502.8,585.5 505.0,582.3 507.1,567.2 508.8,566.2 510.5,588.7 513.1,575.4 515.3,593.0 517.9,611.3 521.7,621.6 523.9,609.1 527.1,605.9 530.3,604.4 532.9,604.8 534.6,609.1 536.8,609.8 538.9,621.6 544.3,611.3 547.5,607.0 550.7,597.3 553.5,595.2 556.5,594.1 559.3,581.2 563.0,576.9 564.7,546.8 566.8,544.7 569.0,547.5 571.6,544.0 573.9,542.1 575.9,548.3 578.2,549.0 580.2,558.6 582.3,555.4 584.5,565.1 586.6,564.6 589.4,574.7 592.6,580.5 595.8,578.4 598.6,575.8 600.8,571.5 602.3,571.5 604.0,595.6 605.9,588.3 608.1,605.9 610.2,620.5 612.6,615.1 614.7,629.5 618.0,627.8 621.0,617.7 623.8,620.5 625.9,621.6 628.1,619.2 630.2,637.1 632.4,642.4 635.6,640.3 638.8,645.6 642.5,660.7 645.3,651.0 647.4,661.8 648.9,676.8 651.8,677.0 653.7,684.0 656.0,688.5 657.9,672.5 659.7,678.5 661.9,668.5 664.1,673.9 667.0,675.8 669.2,663.5 671.0,659.9 672.8,647.5 675.0,644.8 677.0,655.3 679.7,627.1 681.9,630.2 683.8,632.9 687.8,631.1 690.1,632.9 692.9,643.9 695.1,642.9 696.9,625.3 698.7,627.4 701.1,621.4 702.9,634.4 705.3,633.8 708.0,624.2 710.2,631.1 712.0,649.3 716.0,632.6 718.0,646.6 720.2,642.9 723.1,635.1 724.8,647.5 727.1,634.4 729.3,642.9 731.1,645.7 733.9,657.5 736.6,654.4 738.4,654.4 739.9,657.5 742.1,648.4 743.9,651.1 745.7,632.6 749.0,632.9 753.0,618.3 754.8,623.4 757.0,607.4 759.4,614.7 761.8,617.4 764.0,613.8 765.8,614.3 768.2,622.0 770.0,621.6 772.2,605.6 774.9,587.3 777.1,590.1 779.5,602.8 781.3,612.9 783.1,636.6 784.9,660.3 786.7,665.4 789.5,669.0 791.7,670.8 793.7,674.5 795.9,667.6 798.0,658.4 800.1,662.4 802.6,661.7 804.6,655.3 806.4,656.2 809.0,643.5 810.4,645.7 812.8,659.3 815.0,654.8 817.7,646.6 819.7,650.2 821.7,641.1 824.1,636.6 825.9,653.9 828.7,655.7 830.9,659.3 833.2,645.7 835.1,642.4 836.9,645.3 839.6,642.0 842.0,638.0 844.2,633.3 846.0,641.1 848.2,636.6 850.0,639.3 852.0,632.6 854.2,634.7 856.6,631.1 859.1,625.3 860.9,630.2 862.8,649.3 864.8,647.5 867.0,639.3 869.3,646.6 872.4,654.8 876.1,667.6 877.9,637.5 880.1,626.5 881.8,632.1 884.6,627.4 888.3,640.3 891.1,649.9 892.8,651.4 894.7,636.0 897.5,639.2 900.1,644.6 902.2,645.6 904.4,652.7 906.1,656.4 907.8,664.6 910.8,649.3 913.0,651.0 914.7,656.4 916.8,630.2 919.0,640.3 921.1,651.0 923.3,651.4 924.8,599.5 926.3,569.4 928.0,558.6 931.2,555.4 935.5,551.1 938.8,547.2 940.9,547.9 943.0,552.6 944.8,562.5 947.8,561.9 951.6,559.7 953.8,554.3 956.6,552.8 958.5,553.3 960.2,554.8 963.5,551.8 966.7,548.3 968.8,553.9 971.0,551.8 973.1,551.1 974.8,557.6 976.3,578.0 978.5,599.5 980.0,615.6 981.7,595.2 983.9,599.0 986.0,599.0 987.7,607.4 989.9,607.0 992.9,608.7 997.4,609.8 998.9,602.7 1000.4,622.0 1002.1,642.4 1004.9,661.8 1008.6,655.3 1011.8,650.6 1013.9,647.1 1016.1,651.7 1017.8,630.6 1021.0,629.1 1023.0,634.3 1024.7,638.1 1026.8,652.7 1029.0,614.5 1031.6,623.1 1034.4,630.6 1035.9,645.6 1038.0,636.0 1040.2,633.8 1041.9,644.6 1044.0,651.7 1046.2,646.7 1048.8,646.7 1050.9,651.4 1052.6,652.7 1054.8,658.5 1056.9,656.4 1059.1,653.8 1061.6,654.2 1064.0,652.7 1065.9,657.5 1068.1,660.7 1070.2,636.0 1072.4,625.2 1075.0,604.2 1076.7,616.6 1079.0,622.0 1082.7,634.3 1084.8,623.5 1087.0,634.3 1089.6,624.2 1091.7,616.2 1093.9,618.8 1095.6,616.2 1098.2,610.2 1101.0,607.0 1103.5,602.0 1106.3,587.6 1108.5,580.1 1110.0,578.4 1113.2,583.3 1116.0,590.5 1117.9,584.3 1119.8,586.2 1122.1,577.3 1124.0,598.4 1126.4,603.7 1129.3,606.9 1131.2,613.5 1133.0,623.3 1136.8,605.0 1139.1,611.3 1141.2,603.7 1143.8,601.8 1145.9,595.0 1148.1,600.7 1150.0,605.0 1154.8,590.9 1158.5,574.8 1160.8,569.7 1163.2,584.8 1167.0,600.7 1171.7,584.3 1174.0,604.5 1175.9,599.4 1178.4,598.4 1180.2,594.3 1182.1,607.5 1185.0,595.0 1186.8,620.1 1188.7,619.2 1191.0,629.0 1192.9,637.1 1195.0,630.1 1198.2,629.0 1200.4,629.6 1202.0,631.5 1203.8,623.9 1206.1,622.0 1208.0,631.5 1211.0,629.0 1213.3,633.4 1215.5,640.0 1218.9,660.4 1220.8,650.3 1223.1,661.7 1226.1,643.7 1228.4,635.8 1230.3,633.9 1232.2,636.2 1234.0,647.5 1236.3,658.8 1239.1,663.6 1241.6,657.9 1244.4,646.6 1247.3,641.8 1249.2,643.4 1251.6,641.8 1253.9,643.4 1255.8,642.8 1257.6,627.7 1260.1,608.8 1262.0,598.0 1264.3,596.9 1266.7,601.8 1269.0,590.5 1271.4,589.6 1273.3,590.5 1275.2,603.1 1277.1,613.9 1279.7,617.3 1281.8,613.2 1284.1,628.6 1286.0,624.5 1287.9,624.9 1290.7,619.2 1293.0,615.8 1295.0,620.7 1297.3,622.6 1300.5,621.1 1303.0,614.5 1305.2,613.9 1307.7,616.4 1309.6,602.2 1311.8,603.7 1313.9,622.6 1317.1,609.8 1320.9,598.4 1323.2,606.9 1325.1,609.8 1327.1,604.1" stroke="#14ab78" stroke-width="1.2" fill="none" stroke-linejoin="round"/>
<path d="M1334.5 131.6L1344.35 141.45V147.3L1336.4 139.35V155.2H1332.6V139.35L1324.65 147.3V141.45Z" fill="#10ad76" fill-opacity="0.5" stroke="#10ad76" stroke-width="1.1" stroke-linejoin="miter"/>
<path d="M1473.5 163.5L1482.5 155.2H1534V171.9H1482.5Z" fill="#88949a"/>
<rect x="1430" y="223" width="48" height="15" fill="#00b078"/>
</svg>
<div id="txt" style="position:absolute;left:0;top:0;width:1546px;height:768px;will-change:transform">
<div class="t" style="left:19.8px;top:13.3px;font-size:12.4px;font-weight:bold;color:#37474f;transform:scaleX(0.907);transform-origin:0 0;">NZDUSD</div>
<div class="t" style="left:70.4px;top:14.6px;font-size:8.6px;color:#777;letter-spacing:-0.4px">FX</div>
<svg style="position:absolute;left:89px;top:15px" width="9" height="5"><path d="M0 0H8L4 4Z" fill="#777"/></svg>
<div style="position:absolute;left:133px;top:10px;width:44px;height:16px;border:1px solid #e0e0e0;box-sizing:border-box;background:#fff"></div>
<div style="position:absolute;left:135px;top:26px;width:6px;height:6px;background:#fff"></div>
<div class="t" style="left:138.1px;top:13.9px;font-size:10.2px;color:#555;transform:scaleX(0.92);transform-origin:0 0">H1</div>
<svg style="position:absolute;left:165px;top:16px" width="8" height="5"><path d="M0 0H7L3.5 3.5Z" fill="#777"/></svg>
<div class="t ax" style="top:47.0px">0.61486</div>
<div class="t ax" style="top:82.0px">0.61193</div>
<div class="t ax" style="top:118.0px">0.60900</div>
<div class="t ax" style="top:189.0px">0.60314</div>
<div class="t ax" style="top:224.0px">0.60020</div>
<div class="t ax" style="top:260.0px">0.59727</div>
<div class="t ax" style="top:295.0px">0.59434</div>
<div class="t ax" style="top:330.0px">0.59141</div>
<div class="t ax" style="top:366.0px">0.58848</div>
<div class="t ax" style="top:401.0px">0.58554</div>
<div class="t ax" style="top:437.0px">0.58261</div>
<div class="t ax" style="top:473.0px">0.57968</div>
<div class="t ax" style="top:503px">0.57675</div>
<div class="t ax" style="top:554px">80.0</div>
<div class="t ax" style="top:691px">20.0</div>
<div class="t" style="left:1486px;top:157.6px;font-size:12px;font-weight:bold;color:#fff;">0.60576</div>
<div class="t" style="left:1434.5px;top:225px;font-size:11px;color:#fff;">0.60034</div>
<div class="t" style="left:1401px;top:486px;font-size:13.5px;color:#ff9800;">53</div><div class="t" style="left:1417.6px;top:486px;font-size:13.5px;color:#b0bec5;letter-spacing:0.9px">мин</div><div class="t" style="left:1449.4px;top:486px;font-size:13.5px;color:#ff9800;">45</div><div class="t" style="left:1465.8px;top:486px;font-size:13.5px;color:#b0bec5;letter-spacing:0.8px">с.</div>
<div class="t tm" style="left:4.4px">19.10.2023</div>
<div class="t tm" style="left:73.4px">16:00</div>
<div class="t tm" style="left:137.4px">24.10</div>
<div class="t tm" style="left:173.9px">07:00</div>
<div class="t tm" style="left:271.4px">26.10</div>
<div class="t tm" style="left:307.9px">21:00</div>
<div class="t tm" style="left:405.4px">31.10</div>
<div class="t tm" style="left:441.9px">12:00</div>
<div class="t tm" style="left:539.4px">03.11</div>
<div class="t tm" style="left:575.9px">02:00</div>
<div class="t tm" style="left:673.4px">07.11</div>
<div class="t tm" style="left:709.9px">17:00</div>
<div class="t tm" style="left:806.4px">10.11</div>
<div class="t tm" style="left:842.9px">07:00</div>
<div class="t tm" style="left:940.4px">14.11</div>
<div class="t tm" style="left:976.9px">22:00</div>
<div class="t tm" style="left:1074.4px">17.11</div>
<div class="t tm" style="left:1110.9px">12:00</div>
<div class="t tm" style="left:1208.4px">22.11</div>
<div class="t tm" style="left:1244.9px">03:00</div>
<div class="t tm" style="left:1342.4px">24.11</div>
<div class="t tm" style="left:1378.9px">17:00</div>
<svg style="position:absolute;left:6px;top:496px" width="24" height="10"><path d="M0 0H10V5.5H0ZM0 7H10V9H0Z" fill="#b4b4b4"/><path d="M5 2.4H10V3.6H5Z" fill="#fff"/><path d="M14.7 1.7L21.3 8.3M21.3 1.7L14.7 8.3" stroke="#aaa" stroke-width="2.5" fill="none"/></svg><div class="t ind" style="left:31.4px;top:498.1px">EMA</div><div class="t ind" style="left:56.5px;top:498.1px">[50,</div><div class="t ind" style="left:77.5px;top:498.1px">0]</div><div class="t ind" style="left:89.8px;top:498.1px">0.60450</div>
<svg style="position:absolute;left:6px;top:729px" width="24" height="10"><path d="M0 0H10V5.5H0ZM0 7H10V9H0Z" fill="#b4b4b4"/><path d="M5 2.4H10V3.6H5Z" fill="#fff"/><path d="M14.7 1.7L21.3 8.3M21.3 1.7L14.7 8.3" stroke="#aaa" stroke-width="2.5" fill="none"/></svg><div class="t ind" style="left:31.4px;top:731.1px">RSI</div><div class="t ind" style="left:50.5px;top:731.1px">[14]</div><div class="t ind" style="left:72.2px;top:731.1px">60.4</div>
</div></body></html>
